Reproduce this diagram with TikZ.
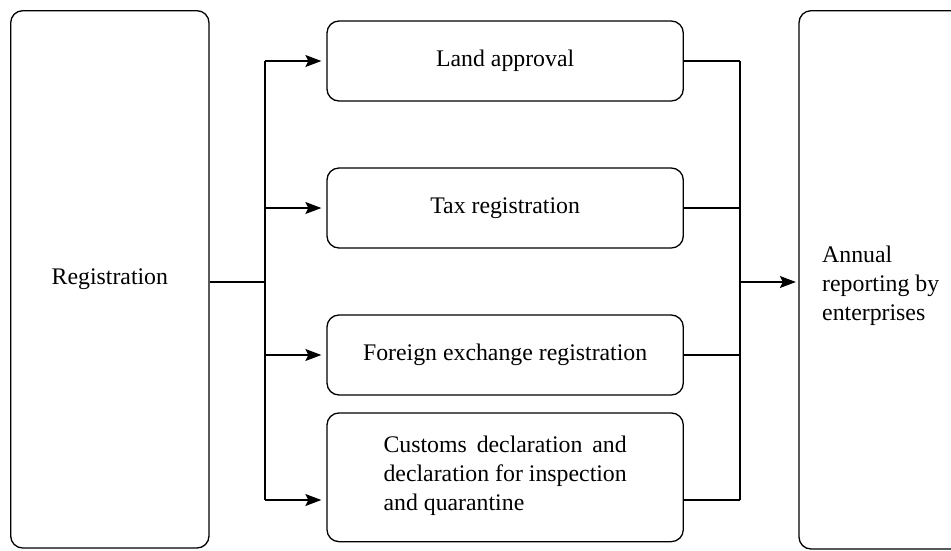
\documentclass[tikz,border=0pt]{standalone}
\usepackage{fontspec}
\setmainfont{Liberation Serif}
\usetikzlibrary{arrows.meta}
\newsavebox{\widestline}
\begin{document}
\begin{tikzpicture}[x=1pt,y=-1pt,
  txt/.style={font=\fontsize{23.8}{29}\selectfont},
  box/.style={draw, line width=1.3pt, rounded corners=12pt, inner sep=0pt, txt},
  conn/.style={line width=1.3pt},
  arr/.style={conn, -{Stealth[length=16pt,width=12pt,inset=3pt]}}]
\useasboundingbox (0,0) rectangle (951,550);
\clip (0,0) rectangle (951,550);
% boxes
\node[box, minimum width=198.3pt, minimum height=537.3pt] (reg) at (109.85,279.35) {Registration};
\node[box, minimum width=356.3pt, minimum height=80pt] (land) at (505.15,61) {Land approval};
\node[box, minimum width=356.3pt, minimum height=80pt] (tax) at (505.15,208) {Tax registration};
\node[box, minimum width=356.3pt, minimum height=80pt] (fx) at (505.15,355) {Foreign exchange registration};
\node[box, minimum width=356.3pt, minimum height=128.7pt, align=left] (cust) at (505.15,477.3)
  {\global\setbox\widestline=\hbox{declaration for inspection}\makebox[\wd\widestline][s]{Customs declaration and}\\declaration for inspection\\and quarantine\\[-21pt]};
\node[box, minimum width=201pt, minimum height=538.3pt] (annual) at (899.5,279.85) {};
\node[txt, align=left, anchor=west, inner sep=0pt] (annualtxt) at (822,286) {Annual\\reporting by\\enterprises};
% junctions
\coordinate (jl) at (265,282);
\coordinate (jr) at (740,282);
\coordinate (jlt) at (265,61);
\coordinate (jlb) at (265,500);
\coordinate (jrt) at (740,61);
\coordinate (jrb) at (740,500);
% left fan-out
\draw[conn] (reg.east |- jl) -- (jl);
\draw[conn] (jlt) -- (jlb);
\draw[arr, shorten >=5pt] (jlt) -- (land.west);
\draw[arr, shorten >=5pt] (tax.west -| jl) -- (tax.west);
\draw[arr, shorten >=5pt] (fx.west -| jl) -- (fx.west);
\draw[arr, shorten >=5pt] (jlb) -- (cust.west |- jlb);
% right fan-in
\draw[conn] (land.east) -- (jrt);
\draw[conn] (tax.east) -- (tax.east -| jr);
\draw[conn] (fx.east) -- (fx.east -| jr);
\draw[conn] (cust.east |- jrb) -- (jrb);
\draw[conn] (jrt) -- (jrb);
\draw[arr, shorten >=2.5pt] (jr) -- (annual.west |- jr);
\end{tikzpicture}
\end{document}
